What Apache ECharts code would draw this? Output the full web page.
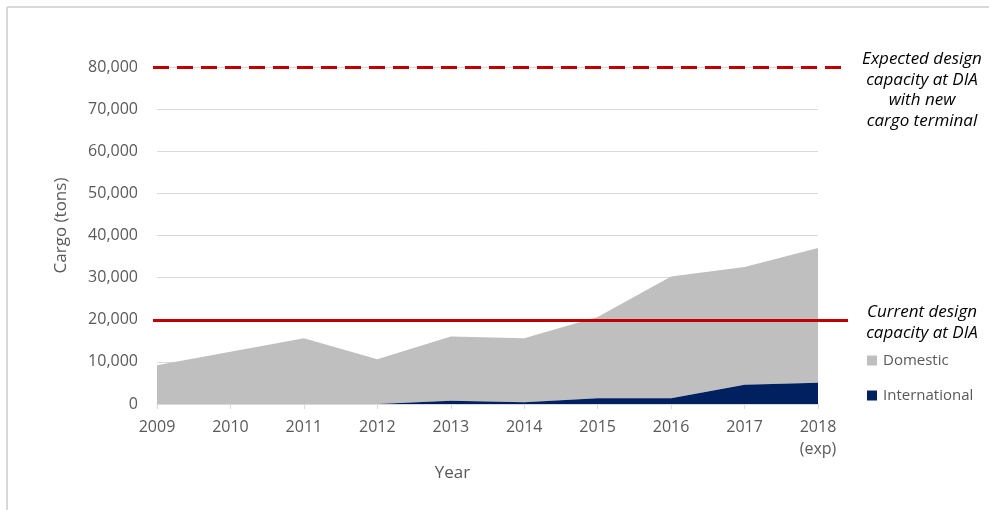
<!DOCTYPE html>
<html>
<head>
<meta charset="utf-8">
<script src="https://cdn.jsdelivr.net/npm/echarts@6/dist/echarts.min.js"></script>
<style>
  html, body { margin: 0; padding: 0; background: #fff; }
  #chart { width: 989px; height: 510px; }
</style>
</head>
<body>
<div id="chart"></div>
<script>
// data
const years = ['2009', '2010', '2011', '2012', '2013', '2014', '2015', '2016', '2017', '2018\n(exp)']
const international = [0, 0, 0, 0, 800, 400, 1350, 1350, 4550, 5050]
const domestic = [9200, 12400, 15600, 10600, 15200, 15200, 19300, 28900, 28000, 32000]
const currentCapacity = 20000
const expectedCapacity = 80000
const yTicks = [0, 10000, 20000, 30000, 40000, 50000, 60000, 70000, 80000]

const textColor = '#595959'
const font = '"Open Sans", sans-serif'

const chart = echarts.init(document.getElementById('chart'))

const option = {
  animation: false,
  textStyle: { fontFamily: font },
  grid: { left: 157, right: 171, top: 67, bottom: 106 },
  legend: {
    orient: 'vertical',
    left: 862,
    top: 348,
    itemWidth: 10,
    itemHeight: 10,
    itemGap: 20,
    icon: 'rect',
    data: ['Domestic', 'International'],
    textStyle: { color: textColor, fontSize: 15, fontFamily: font, padding: [0, 0, 0, 1] }
  },
  xAxis: {
    type: 'category',
    data: years,
    boundaryGap: false,
    name: 'Year',
    nameLocation: 'middle',
    nameGap: 56,
    nameTextStyle: { color: textColor, fontSize: 17, padding: [0, 70, 0, 0] },
    axisLine: { lineStyle: { color: '#d9d9d9', width: 1 } },
    axisTick: { show: true, alignWithLabel: true, length: 5, lineStyle: { color: '#d9d9d9' } },
    axisLabel: { color: textColor, fontSize: 16, margin: 12, lineHeight: 22 }
  },
  yAxis: {
    type: 'value',
    min: yTicks[0],
    max: yTicks[yTicks.length - 1],
    interval: 10000,
    name: 'Cargo (tons)',
    nameLocation: 'middle',
    nameGap: 87,
    nameTextStyle: { color: textColor, fontSize: 17, padding: [0, 0, 0, 20] },
    axisLine: { show: false },
    axisTick: { show: false },
    splitLine: { lineStyle: { color: '#d9d9d9', width: 1 } },
    axisLabel: {
      color: textColor,
      fontSize: 16,
      margin: 19,
      formatter: v => v.toLocaleString('en-US')
    }
  },
  graphic: [
    { type: 'line', shape: { x1: 7, y1: 7, x2: 989, y2: 7 }, style: { stroke: '#d9d9d9', lineWidth: 2 } },
    { type: 'line', shape: { x1: 7, y1: 7, x2: 7, y2: 510 }, style: { stroke: '#d9d9d9', lineWidth: 2 } },
    {
      type: 'text',
      style: {
        x: 922, y: 49, text: 'Expected design\ncapacity at DIA\nwith new\ncargo terminal',
        align: 'center', fontSize: 17, lineHeight: 20.6, fontStyle: 'italic',
        fontFamily: font, fill: '#000'
      }
    },
    {
      type: 'text',
      style: {
        x: 922, y: 302, text: 'Current design\ncapacity at DIA',
        align: 'center', fontSize: 17, lineHeight: 20.6, fontStyle: 'italic',
        fontFamily: font, fill: '#000'
      }
    }
  ],
  series: [
    {
      name: 'International',
      type: 'line',
      stack: 'cargo',
      data: international,
      symbol: 'none',
      lineStyle: { width: 0 },
      itemStyle: { color: '#002060' },
      areaStyle: { color: '#002060', opacity: 1 },
      z: 3
    },
    {
      name: 'Domestic',
      type: 'line',
      stack: 'cargo',
      data: domestic,
      symbol: 'none',
      lineStyle: { width: 0 },
      itemStyle: { color: '#bfbfbf' },
      areaStyle: { color: '#bfbfbf', opacity: 1 },
      z: 2,
      markLine: {
        silent: true,
        symbol: 'none',
        label: { show: false },
        data: [
          [
            { x: 153, yAxis: currentCapacity, lineStyle: { color: '#c00000', width: 3, type: 'solid' } },
            { x: 848, yAxis: currentCapacity }
          ],
          [
            { x: 153, yAxis: expectedCapacity, lineStyle: { color: '#c00000', width: 3, type: [16, 8] } },
            { x: 846, yAxis: expectedCapacity }
          ]
        ]
      }
    }
  ]
}

chart.setOption(option)
</script>
</body>
</html>
